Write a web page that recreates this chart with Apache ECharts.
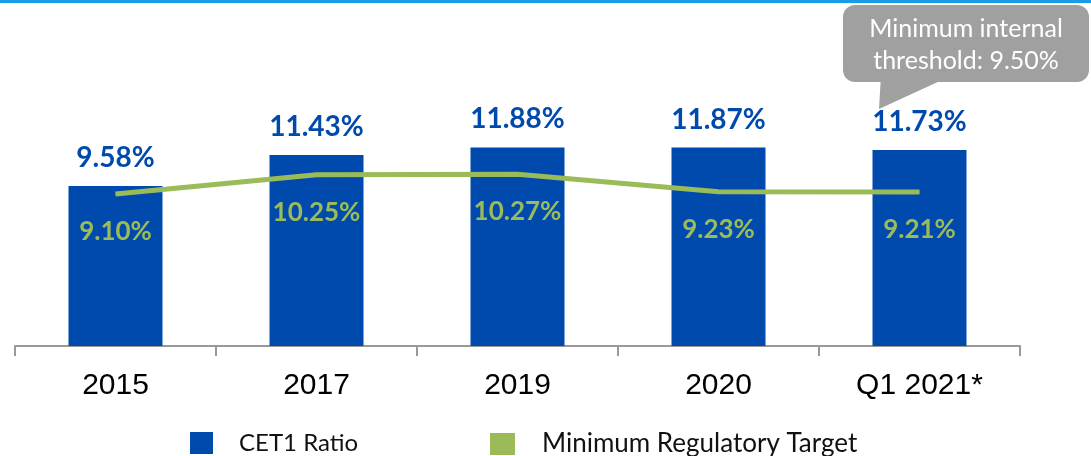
<!DOCTYPE html>
<html>
<head>
<meta charset="utf-8">
<script src="https://cdn.jsdelivr.net/npm/echarts@6/dist/echarts.min.js"></script>
<style>
  html, body { margin: 0; padding: 0; background: #fff; }
  #main { width: 1091px; height: 456px; }
</style>
</head>
<body>
<div id="main"></div>
<script>
// chart data
var categories = ['2015', '2017', '2019', '2020', 'Q1 2021*'];
var cet1Ratio = [9.58, 11.43, 11.88, 11.87, 11.73];
var minRegTarget = [9.10, 10.25, 10.27, 9.23, 9.21];
var calloutText = 'Minimum internal\nthreshold: 9.50%';

var BLUE = '#004AAD';
var GREEN = '#9BBB59';
var LABEL_FONT = 'Lato, "Open Sans", sans-serif';

var chart = echarts.init(document.getElementById('main'));

function pct(p) { return p.value.toFixed(2) + '%'; }

function legendAt(left, name, w, fs, gap) {
    return {
        top: 431,
        left: left,
        padding: 0,
        itemWidth: w,
        itemHeight: 22,
        icon: 'rect',
        selectedMode: false,
        textStyle: { fontFamily: LABEL_FONT, fontSize: fs, color: '#111', padding: [0, 0, 0, gap] },
        data: [name]
    };
}

var option = {
    animation: false,
    grid: { left: 15, right: 71, top: 112, bottom: 110, containLabel: false },
    legend: [
        legendAt(190, 'CET1 Ratio', 23, 24, 21),
        legendAt(490, 'Minimum Regulatory Target', 25, 26, 22)
    ],
    xAxis: {
        type: 'category',
        data: categories,
        axisLine: { lineStyle: { color: '#999', width: 2 } },
        axisTick: { show: true, length: 10, lineStyle: { color: '#999', width: 2 } },
        axisLabel: { fontFamily: 'Liberation Sans, Arial', fontSize: 30, color: '#000', margin: 25 }
    },
    yAxis: {
        type: 'value',
        min: 0,
        max: 14,
        show: false,
        splitLine: { show: false }
    },
    series: [
        {
            name: 'CET1 Ratio',
            type: 'bar',
            data: cet1Ratio,
            barWidth: 94,
            itemStyle: { color: BLUE },
            label: {
                show: true,
                position: 'top',
                distance: 14,
                fontFamily: LABEL_FONT,
                fontWeight: 'bold',
                fontSize: 28,
                color: BLUE,
                formatter: pct
            }
        },
        {
            name: 'Minimum Regulatory Target',
            type: 'line',
            data: minRegTarget,
            symbol: 'circle',
            symbolSize: 1,
            showSymbol: true,
            lineStyle: { color: GREEN, width: 5 },
            itemStyle: { color: GREEN },
            label: {
                show: true,
                position: 'bottom',
                distance: 24,
                fontFamily: LABEL_FONT,
                fontWeight: 'bold',
                fontSize: 26,
                color: GREEN,
                formatter: pct
            }
        }
    ],
    graphic: [
        // blue strip along the top
        { type: 'rect', left: 0, top: 0, shape: { width: 1091, height: 3 }, style: { fill: '#1A9BE6' } },
        // callout bubble
        {
            type: 'group',
            left: 843,
            top: 5,
            children: [
                { type: 'polygon', shape: { points: [[38, 70], [110, 70], [36, 104]] }, style: { fill: '#A0A0A0' } },
                { type: 'rect', shape: { x: 0, y: 0, width: 246, height: 77, r: 12 }, style: { fill: '#A0A0A0' } },
                {
                    type: 'text', x: 123, y: 40,
                    style: {
                        text: calloutText, fill: '#fff', align: 'center', verticalAlign: 'middle',
                        fontFamily: LABEL_FONT, fontSize: 25, lineHeight: 32
                    }
                }
            ]
        }
    ]
};

chart.setOption(option);
</script>
</body>
</html>
